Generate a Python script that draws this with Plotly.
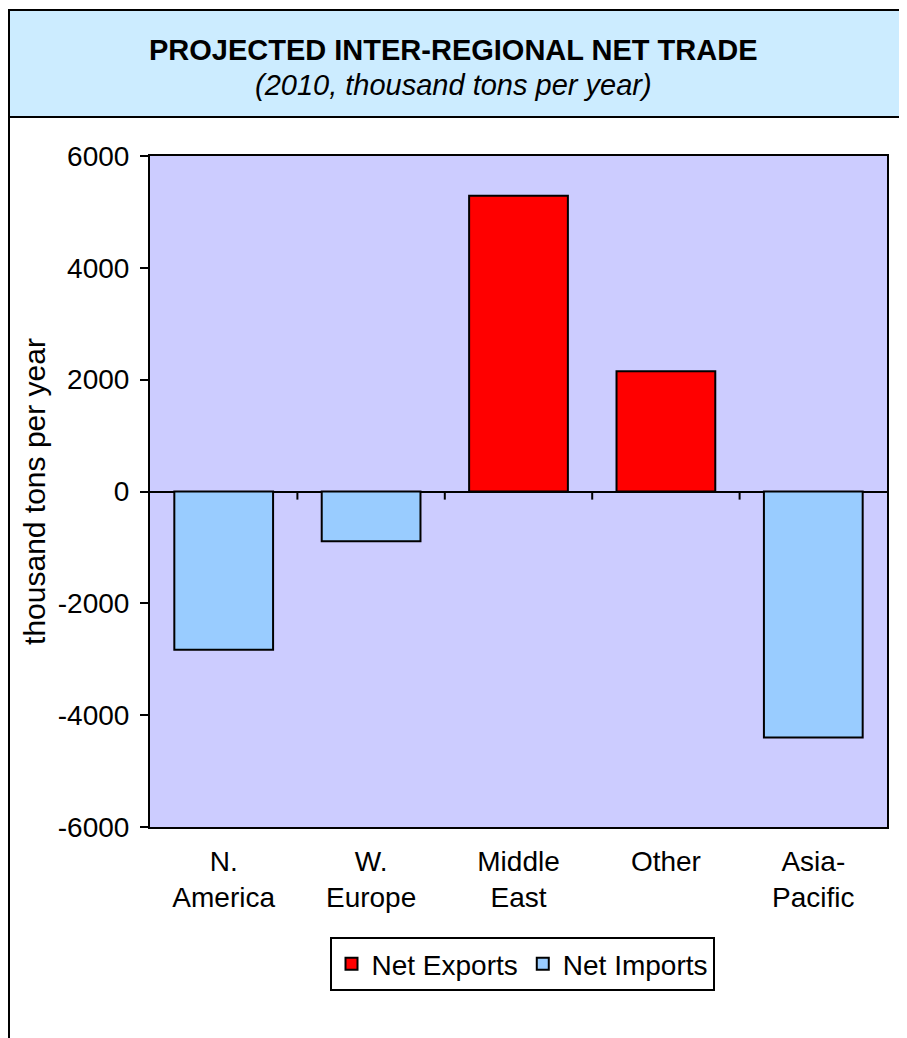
import plotly.graph_objects as go

categories = ["N.<br>America", "W.<br>Europe", "Middle<br>East", "Other", "Asia-<br>Pacific"]
net_exports = [None, None, 5290, 2150, None]
net_imports = [-2830, -890, None, None, -4400]
y_ticks = [-6000, -4000, -2000, 0, 2000, 4000, 6000]

# page has an 8px body margin; figure coordinates = page - 8
OFF = 8
W, H = 907 - OFF, 1038 - OFF
L, T = 150 - OFF, 156 - OFF
pw, ph = 737, 671
R = W - L - pw
B = H - T - ph


def px(xpage):
    return (xpage - OFF - L) / pw


def py(ypage):
    return (H - B - (ypage - OFF)) / ph


FONT = "Liberation Sans, Arial, sans-serif"

fig = go.Figure()
fig.add_trace(go.Bar(x=categories, y=net_exports, name="Net Exports",
                     marker=dict(color="#FF0000", line=dict(color="black", width=2))))
fig.add_trace(go.Bar(x=categories, y=net_imports, name="Net Imports",
                     marker=dict(color="#99CCFF", line=dict(color="black", width=2))))

shapes = [
    # outer frame
    dict(type="rect", xref="paper", yref="paper", x0=px(9), x1=px(930), y0=py(1080), y1=py(10),
         line=dict(color="black", width=2), fillcolor="rgba(0,0,0,0)", layer="below"),
    # title box
    dict(type="rect", xref="paper", yref="paper", x0=px(9), x1=px(930), y0=py(117), y1=py(10),
         line=dict(color="black", width=2), fillcolor="#CCECFF", layer="below"),
]

annotations = [
    dict(text="<b>PROJECTED INTER-REGIONAL NET TRADE</b>", xref="paper", yref="paper",
         x=px(453), y=py(50), showarrow=False, font=dict(family=FONT, size=29, color="black"),
         xanchor="center", yanchor="middle"),
    dict(text="<i>(2010, thousand tons per year)</i>", xref="paper", yref="paper",
         x=px(453), y=py(85), showarrow=False, font=dict(family=FONT, size=29, color="black"),
         xanchor="center", yanchor="middle"),
]

fig.update_layout(
    width=W, height=H,
    margin=dict(l=L, r=R, t=T, b=B),
    paper_bgcolor="white",
    plot_bgcolor="#CCCCFF",
    barmode="relative",
    bargap=0.33,
    font=dict(family=FONT, size=28, color="black"),
    shapes=shapes,
    annotations=annotations,
    showlegend=True,
    legend=dict(orientation="h", x=px(522), xanchor="center", y=py(937), yanchor="top",
                bordercolor="black", borderwidth=2, bgcolor="white",
                font=dict(family=FONT, size=28),
                traceorder="normal"),
)

fig.update_xaxes(
    showline=True, linecolor="black", linewidth=2, mirror=True,
    ticks="", tickfont=dict(family=FONT, size=28), ticklabelstandoff=8,
    showgrid=False, zeroline=False,
)
fig.update_yaxes(
    range=[-6000, 6000], tickvals=y_ticks, ticktext=[str(v) for v in y_ticks],
    showline=True, linecolor="black", linewidth=2, mirror=True,
    ticks="outside", ticklen=8, tickwidth=2, tickcolor="black",
    ticklabelstandoff=5,
    tickfont=dict(family=FONT, size=28),
    showgrid=False, zeroline=True, zerolinecolor="black", zerolinewidth=2,
    title=dict(text="thousand tons per year", font=dict(family=FONT, size=30), standoff=3),
)

# category tick marks on the zero line (between categories)
for i in range(1, 5):
    fig.add_shape(type="line", xref="x", yref="y", x0=i - 0.5, x1=i - 0.5, y0=0, y1=-145,
                  line=dict(color="black", width=2))

fig.write_html("out.html")
